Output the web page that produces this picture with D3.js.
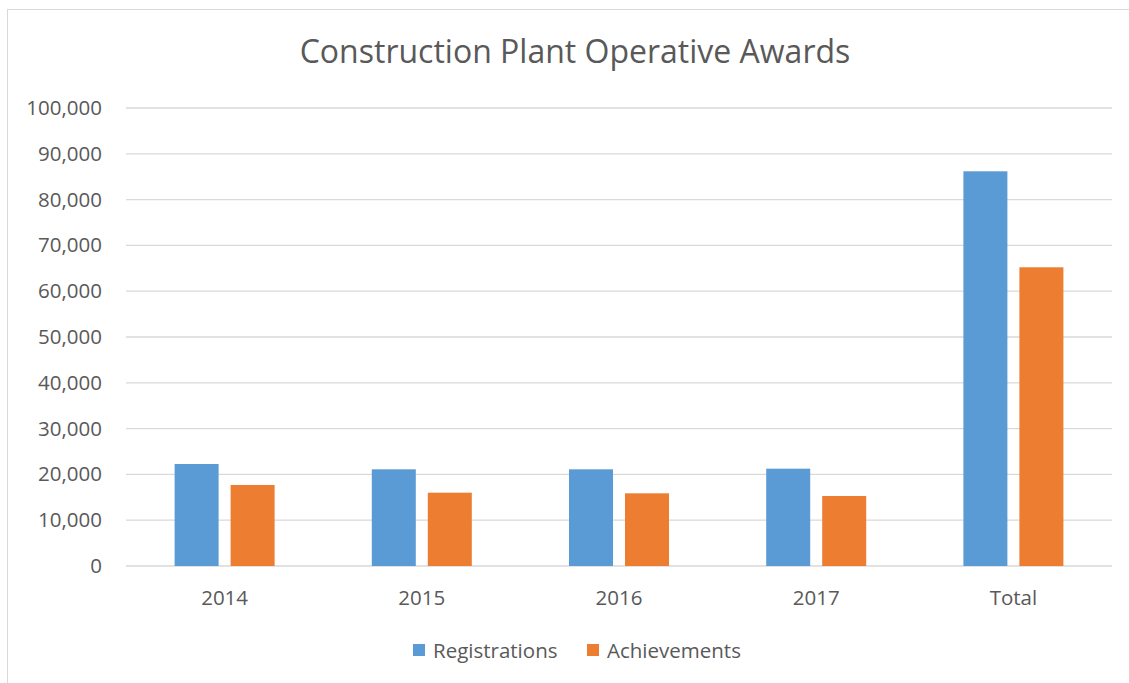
<!DOCTYPE html>
<html><head><meta charset="utf-8">
<script src="https://cdn.jsdelivr.net/npm/d3@7"></script>
<style>body{margin:0;background:#fff}svg{display:block}</style>
</head><body>
<svg id="c" width="1129" height="683"></svg>
<script>
const categories = ["2014","2015","2016","2017","Total"];
const seriesNames = ["Registrations","Achievements"];
const registrations = [22270,21110,21110,21250,86180];
const achievements = [17690,16010,15870,15280,65220];
const yTicks = [0,10000,20000,30000,40000,50000,60000,70000,80000,90000,100000];
const colors = ["#5B9BD5","#ED7D31"];
const title = "Construction Plant Operative Awards";

const font = "'Open Sans', 'Liberation Sans', sans-serif";
const svg = d3.select("#c");
svg.append("rect").attr("x",7.5).attr("y",9.5).attr("width",1140).attr("height",700)
  .attr("fill","#fff").attr("stroke","#D9D9D9");

const m = {l:126,r:1112,t:108,b:566};
const x0 = d3.scaleBand().domain(categories).range([m.l,m.r]);
const x1 = d3.scaleBand().domain(seriesNames).range([0,100]).paddingInner(12/56);
const y = d3.scaleLinear().domain([0,100000]).range([m.b,m.t]);

svg.append("g").selectAll("line").data(yTicks).join("line")
  .attr("x1",m.l).attr("x2",m.r).attr("y1",d=>y(d)).attr("y2",d=>y(d))
  .attr("stroke","#D9D9D9").attr("stroke-width",1.3);

const yAxis = svg.append("g").attr("transform",`translate(${m.l},0)`)
  .call(d3.axisLeft(y).tickValues(yTicks).tickFormat(d3.format(",")).tickSize(0).tickPadding(24));
yAxis.select(".domain").remove();
yAxis.selectAll("text").attr("fill","#595959").style("font-family",font).style("font-size","20.5px");

const xAxis = svg.append("g").attr("transform",`translate(0,${m.b})`)
  .call(d3.axisBottom(x0).tickSize(0).tickPadding(24));
xAxis.select(".domain").remove();
xAxis.selectAll("text").attr("fill","#595959").style("font-family",font).style("font-size","20.5px");

const data = categories.map((c,i)=>({cat:c, vals:[registrations[i],achievements[i]]}));
const groups = svg.append("g").selectAll("g").data(data).join("g")
  .attr("transform",d=>`translate(${x0(d.cat)+x0.bandwidth()/2-50},0)`);
groups.selectAll("rect").data(d=>d.vals.map((v,j)=>({s:seriesNames[j],v,j}))).join("rect")
  .attr("x",d=>x1(d.s)).attr("width",x1.bandwidth())
  .attr("y",d=>y(d.v)).attr("height",d=>y(0)-y(d.v))
  .attr("fill",d=>colors[d.j]);

svg.append("text").attr("x",575).attr("y",63).attr("text-anchor","middle")
  .attr("fill","#595959").style("font-family",font).style("font-size","32px").text(title);

const leg = svg.append("g");
const legX = [413,587];
seriesNames.forEach((s,i)=>{
  leg.append("rect").attr("x",legX[i]).attr("y",644).attr("width",12).attr("height",12).attr("fill",colors[i]);
  leg.append("text").attr("x",legX[i]+20).attr("y",658).attr("fill","#595959")
    .style("font-family",font).style("font-size","20.5px").text(s);
});
</script>
</body></html>
